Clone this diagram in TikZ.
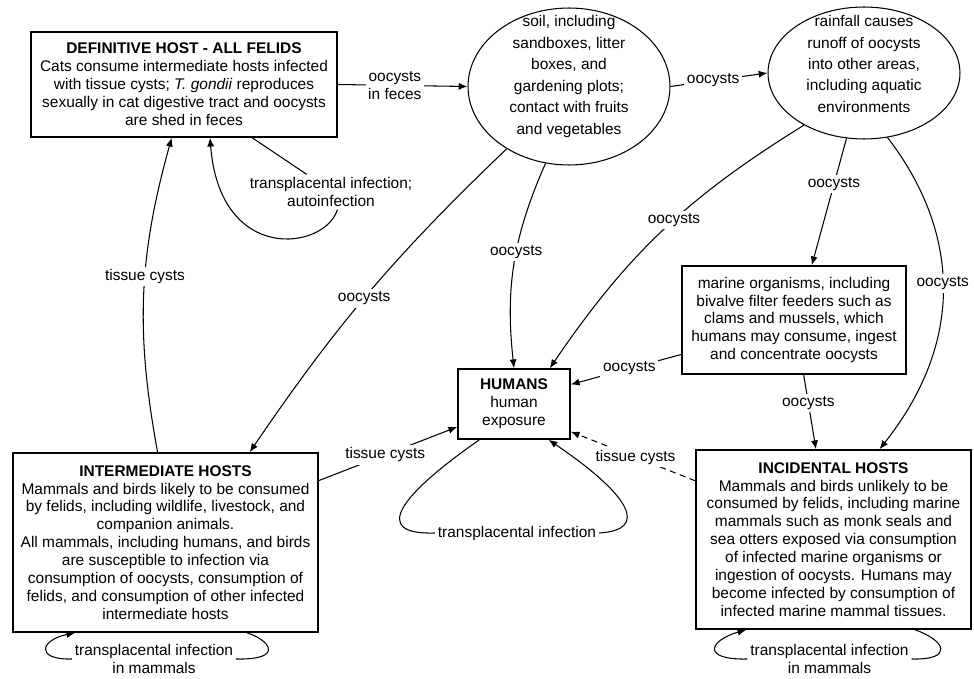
\documentclass[tikz,border=0pt]{standalone}
\usepackage{fontspec}
\setmainfont{Liberation Sans}
\usetikzlibrary{arrows.meta,shapes.geometric}

\tikzset{
  hostbox/.style={draw, line width=0.9pt, rectangle, align=center, inner sep=0pt,
    font=\fontsize{8.8}{10.2}\selectfont},
  blob/.style={draw, line width=0.6pt, ellipse, inner sep=0pt},
  blobtext/.style={align=center, inner sep=0pt, font=\fontsize{8.8}{12.2}\selectfont},
  route/.style={line width=0.6pt},
  flow/.style={route, -{Latex[length=5pt,width=4pt]}},
  tag/.style={fill=white, inner sep=1.5pt, align=center, font=\fontsize{8.8}{10.2}\selectfont},
}

\begin{document}
\begin{tikzpicture}[x=0.02cm,y=-0.02cm]
    \useasboundingbox (0,0) rectangle (974,679);

    % hosts, sources and humans
    \node[hostbox, minimum width=6.12cm, minimum height=2.1cm] (felids) at (184,84.5)
        {\textbf{DEFINITIVE HOST - ALL FELIDS}\\Cats consume intermediate hosts infected\\with tissue cysts; \textit{T. gondii} reproduces\\sexually in cat digestive tract and oocysts\\are shed in feces};
    \node[blob, minimum width=4.04cm, minimum height=3.14cm] (soil) at (569,86.5) {};
    \node[blobtext] (soiltext) at (569,76.5)
        {soil, including\\sandboxes, litter\\boxes, and\\gardening plots;\\contact with fruits\\and vegetables};
    \node[blob, minimum width=3.84cm, minimum height=2.64cm] (rain) at (864,73) {};
    \node[blobtext] (raintext) at (864,64)
        {rainfall causes\\runoff of oocysts\\into other areas,\\including aquatic\\environments};
    \node[hostbox, minimum width=2.24cm, minimum height=1.4cm] (humans) at (514,404)
        {\textbf{HUMANS}\\human\\exposure};
    \node[hostbox, minimum width=4.48cm, minimum height=2.16cm] (marine) at (794,320)
        {marine organisms, including\\bivalve filter feeders such as\\clams and mussels, which\\humans may consume, ingest\\and concentrate oocysts};
    \node[hostbox, minimum width=6.1cm, minimum height=3.58cm] (inter) at (165.5,542.5)
        {\textbf{INTERMEDIATE HOSTS}\\Mammals and birds likely to be consumed\\by felids, including wildlife, livestock, and\\companion animals.\\All mammals, including humans, and birds\\are susceptible to infection via\\consumption of oocysts, consumption of\\felids, and consumption of other infected\\intermediate hosts};
    \node[hostbox, minimum width=5.5cm, minimum height=3.58cm] (incid) at (833.5,539.5)
        {\textbf{INCIDENTAL HOSTS}\\Mammals and birds unlikely to be\\consumed by felids, including marine\\mammals such as monk seals and\\sea otters exposed via consumption\\of infected marine organisms or\\ingestion of oocysts. Humans may\\become infected by consumption of\\infected marine mammal tissues.};

    % oocyst routes
    \draw[flow] (felids.east) -- node[tag, pos=0.44] (tagfeces) {oocysts\\in feces} (soil.west);
    \draw[flow] (soil.east) -- node[tag, pos=0.44] (tagrunoff) {oocysts} (rain.west);
    \draw[flow] (rain.-105) -- node[tag, pos=0.36] (tagsea) {oocysts} (marine.72);
    \draw[flow] (rain.-70) .. controls (955,225) and (970,335) .. node[tag, pos=0.5] (tagwater) {oocysts} (incid.63);
    \draw[flow] (rain.-139) to[bend right=12] node[tag, pos=0.45] (tagdrink) {oocysts} (humans.45);
    \draw[flow] (soil.-107) to[bend right=15] node[tag, pos=0.44] (tagdirt) {oocysts} (humans.north);
    \draw[flow] (soil.-135) to[bend right=6] node[tag, pos=0.52] (tagfield) {oocysts} (inter.47);
    \draw[flow] (marine.-163) -- node[tag, pos=0.47] (tagshell) {oocysts} (humans.19);
    \draw[flow] (marine.-80) -- node[tag, pos=0.38] (tagprey) {oocysts} (incid.101);

    % tissue cyst routes
    \draw[flow, dash pattern=on 3.5pt off 2.5pt] (incid.157) -- node[tag, pos=0.48] (tagmeat) {tissue cysts} (humans.-26);
    \draw[flow] (inter.22) -- node[tag, pos=0.48] (tagfood) {tissue cysts} (humans.-158);
    \draw[flow] (inter.95) to[bend left=13] node[tag, pos=0.56] (tagcat) {tissue cysts} (felids.-103);

    % transplacental loops
    \node[tag] (felloop) at (331,192) {transplacental infection;\\autoinfection};
    \draw[route] (felids.-38) -- (felloop.144);
    \draw[flow] (felloop.-70) .. controls (325,250) and (220,265) .. (felids.-64);

    \node[tag] (humloop) at (517,533) {transplacental infection};
    \draw[route] (humans.-134) .. controls (400,495) and (370,535) .. (humloop.west);
    \draw[flow] (humloop.east) .. controls (650,530) and (630,495) .. (humans.-46);

    \node[tag] (intloop) at (154,659) {transplacental infection\\in mammals};
    \draw[flow] (intloop.west) .. controls (35,660) and (40,640) .. (inter.-135);
    \draw[route] (inter.-48) .. controls (270,640) and (285,660) .. (intloop.east);

    \node[tag] (incloop) at (829.5,659) {transplacental infection\\in mammals};
    \draw[flow] (incloop.west) .. controls (700,660) and (710,640) .. (incid.-134);
    \draw[route] (incid.-48) .. controls (945,640) and (955,660) .. (incloop.east);
\end{tikzpicture}
\end{document}
